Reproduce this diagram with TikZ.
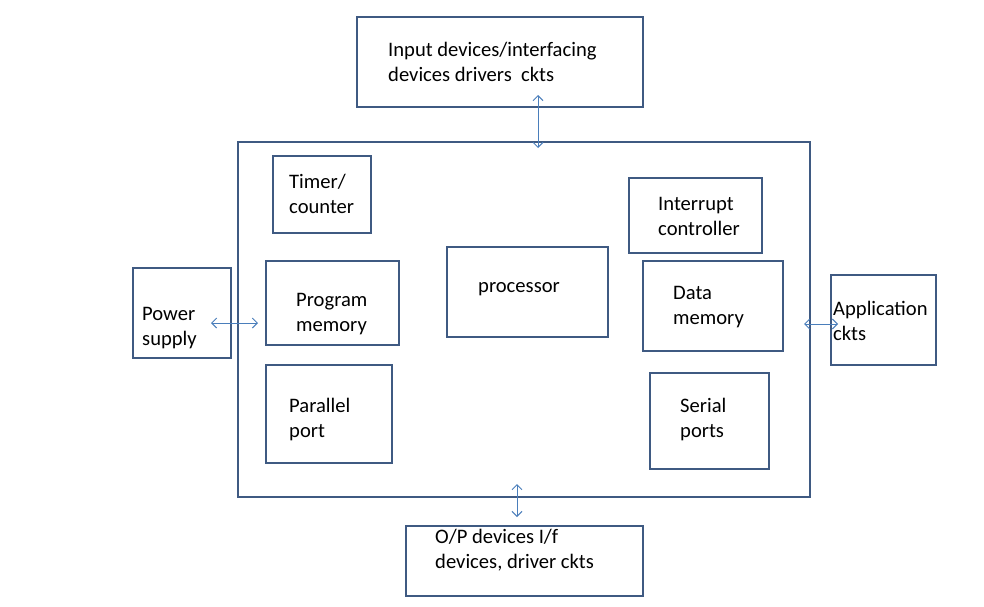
\documentclass[tikz,border=0pt]{standalone}
\usepackage{fontspec}
\setmainfont{Carlito}
\usetikzlibrary{arrows.meta}
\definecolor{boxc}{HTML}{3F5A82}
\definecolor{arrc}{HTML}{4A7EBB}
\tikzset{
  box/.style={draw=boxc, line width=2pt, inner sep=0pt, fill=white},
  lbl/.style={inner sep=0pt, align=left, anchor=west, font=\fontsize{20.6}{25}\selectfont},
  arr/.style={draw=arrc, line width=1pt, {Straight Barb[length=5pt,width=10pt]}-{Straight Barb[length=5pt,width=10pt]}}
}
\newcommand{\bx}[5]{\node[box, minimum width={#4-#2}, minimum height={#5-#3}] (#1) at ({(#2+#4)/2},{(#3+#5)/2}) {};}
\begin{document}
\begin{tikzpicture}[x=1pt,y=-1pt]
\useasboundingbox (0,0) rectangle (984,606);
\fill[white] (0,0) rectangle (984,606);
\bx{input}{357}{17}{643}{107}
\bx{main}{238}{142}{810}{497}
\bx{timer}{273}{156}{371}{233}
\bx{prog}{266}{261}{399}{345}
\bx{par}{266}{365}{392}{463}
\bx{proc}{447}{247}{608}{337}
\bx{intr}{629}{178}{762}{253}
\bx{data}{643}{261}{783}{351}
\bx{serial}{650}{373}{769}{469}
\bx{power}{133}{268}{231}{358}
\bx{app}{831}{275}{936}{365}
\bx{out}{406}{526}{643}{596}

\node[lbl] (tinput) at (388,61.5) {Input devices/interfacing\\devices drivers\ \ ckts};
\node[lbl] (ttimer) at (289,194) {Timer/\\counter};
\node[lbl] (tprog) at (296,314) {Program\\memory};
\node[lbl] (tpar) at (289,419) {Parallel\\port};
\node[lbl] (tproc) at (478,289.5) {processor};
\node[lbl] (tintr) at (658,216) {Interrupt\\controller};
\node[lbl] (tdata) at (673,307) {Data\\memory};
\node[lbl] (tserial) at (680,419) {Serial\\ports};
\node[lbl] (tpower) at (142,328) {Power\\supply};
\node[lbl] (tapp) at (833,321) {Application\\ckts};
\node[lbl] (tout) at (435,550.5) {O/P devices I/f\\devices, driver ckts};

\coordinate (a1) at (538,95);
\coordinate (a2) at (538,148);
\coordinate (b1) at (211,323);
\coordinate (b2) at (258,323);
\coordinate (c1) at (804,324);
\coordinate (c2) at (838,324);
\coordinate (d1) at (517,484);
\coordinate (d2) at (517,517);
\draw[arr] (a1) -- (a2);
\draw[arr] (b1) -- (b2);
\draw[arr] (c1) -- (c2);
\draw[arr] (d1) -- (d2);
\end{tikzpicture}
\end{document}
